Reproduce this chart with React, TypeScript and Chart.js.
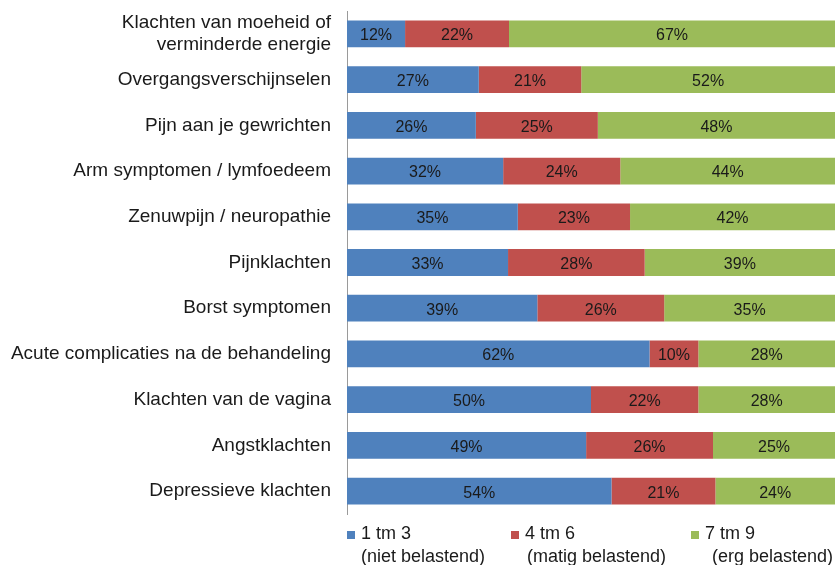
import React, { useEffect, useRef } from "react";
import { Chart, registerables } from "chart.js";

Chart.register(...registerables);

const categories: (string | string[])[] = [
  ["Klachten van moeheid of", "verminderde energie"],
  "Overgangsverschijnselen",
  "Pijn aan je gewrichten",
  "Arm symptomen / lymfoedeem",
  "Zenuwpijn / neuropathie",
  "Pijnklachten",
  "Borst symptomen",
  "Acute complicaties na de behandeling",
  "Klachten van de vagina",
  "Angstklachten",
  "Depressieve klachten",
];

const seriesNames = ["1 tm 3", "4 tm 6", "7 tm 9"];
const seriesSubNames = ["(niet belastend)", "(matig belastend)", "(erg belastend)"];

// segment sizes
const lowValues = [11.9, 27, 26.4, 32, 35, 33, 39, 62, 50, 49, 54.2];
const midValues = [21.3, 21, 25, 24, 23, 28, 26, 10, 22, 26, 21.3];
const highValues = [66.8, 52, 48.6, 44, 42, 39, 35, 28, 28, 25, 24.5];

// printed percentage labels
const lowLabels = [12, 27, 26, 32, 35, 33, 39, 62, 50, 49, 54];
const midLabels = [22, 21, 25, 24, 23, 28, 26, 10, 22, 26, 21];
const highLabels = [67, 52, 48, 44, 42, 39, 35, 28, 28, 25, 24];

const colors = ["#4F81BD", "#C0504D", "#9BBB59"];
const FONT = "'Liberation Sans', Arial, sans-serif";
const TEXT = "#1a1a1a";

const labelSets = [lowLabels, midLabels, highLabels];

const barLabelPlugin = {
  id: "barLabels",
  afterDatasetsDraw(chart: any) {
    const ctx = chart.ctx;
    ctx.save();
    ctx.font = `16px ${FONT}`;
    ctx.fillStyle = TEXT;
    ctx.textAlign = "center";
    ctx.textBaseline = "middle";
    chart.data.datasets.forEach((ds: any, di: number) => {
      const meta = chart.getDatasetMeta(di);
      meta.data.forEach((el: any, i: number) => {
        const cx = (el.x + el.base) / 2;
        ctx.fillText(`${labelSets[di][i]}%`, cx, el.y + 2);
      });
    });
    ctx.restore();
  },
};

const legendPlugin = {
  id: "customLegend",
  afterDraw(chart: any) {
    const ctx = chart.ctx;
    const left = chart.chartArea.left;
    const bottom = chart.chartArea.bottom;
    const boxOffsets = [0, 164, 344];
    const line2Offsets = [14, 16, 21];
    ctx.save();
    ctx.font = `18px ${FONT}`;
    ctx.fillStyle = TEXT;
    ctx.textBaseline = "middle";
    ctx.textAlign = "left";
    seriesNames.forEach((name, i) => {
      const bx = left + boxOffsets[i];
      ctx.fillStyle = colors[i];
      ctx.fillRect(bx, bottom + 17, 8, 8);
      ctx.fillStyle = TEXT;
      ctx.fillText(name, bx + 14, bottom + 20);
      ctx.fillText(seriesSubNames[i], bx + line2Offsets[i], bottom + 43);
    });
    ctx.restore();
  },
};

export default function App() {
  const ref = useRef<HTMLCanvasElement>(null);

  useEffect(() => {
    if (!ref.current) return;
    const chart = new Chart(ref.current, {
      type: "bar",
      data: {
        labels: categories,
        datasets: [lowValues, midValues, highValues].map((vals, i) => ({
          label: seriesNames[i],
          data: vals,
          backgroundColor: colors[i],
          borderWidth: 0,
          barPercentage: 0.585,
          categoryPercentage: 1,
        })),
      },
      options: {
        indexAxis: "y",
        responsive: false,
        animation: false,
        devicePixelRatio: 1,
        layout: { padding: { top: 11, right: 4, bottom: 51, left: 0 } },
        plugins: {
          legend: { display: false },
          tooltip: { enabled: false },
        },
        scales: {
          x: { stacked: true, min: 0, max: 100, display: false },
          y: {
            stacked: true,
            grid: { display: false, drawTicks: false },
            border: { display: true, color: "#9a9a9a", width: 1 },
            ticks: {
              color: TEXT,
              padding: 16,
              autoSkip: false,
              font: { family: FONT, size: 19, lineHeight: 1.2 },
            },
            afterFit: (scale: any) => {
              scale.width = 347;
              scale.paddingTop = 0;
              scale.paddingBottom = 0;
            },
          },
        },
      },
      plugins: [barLabelPlugin, legendPlugin],
    });
    return () => chart.destroy();
  }, []);

  return (
    <div style={{ position: "absolute", left: 0, top: 0, width: 839, height: 565, background: "#fff" }}>
      <canvas ref={ref} width={839} height={565} style={{ display: "block" }} />
    </div>
  );
}
